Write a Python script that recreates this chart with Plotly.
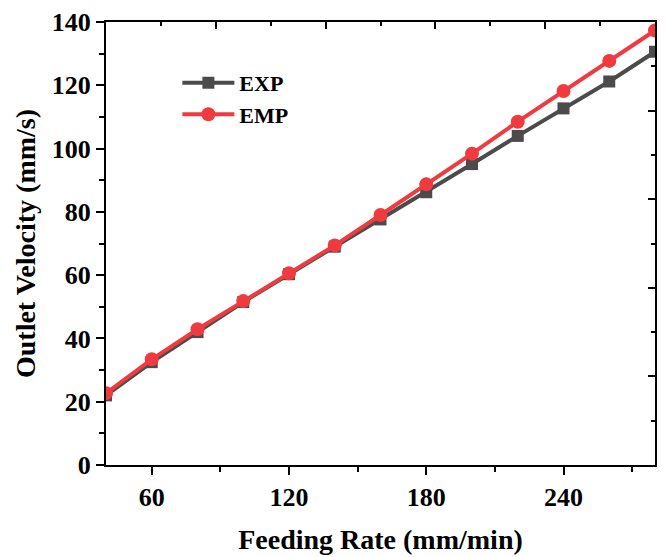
import plotly.graph_objects as go

feeding_rate = [40, 60, 80, 100, 120, 140, 160, 180, 200, 220, 240, 260, 280]
exp_velocity = [22.0, 32.5, 42.0, 51.5, 60.3, 69.0, 77.6, 86.2, 95.1, 104.0, 112.7, 121.2, 130.6]
emp_velocity = [22.7, 33.4, 42.9, 51.8, 60.6, 69.4, 79.0, 88.7, 98.4, 108.5, 118.2, 127.7, 137.3]

x_ticks = [60, 120, 180, 240]
y_ticks = [0, 20, 40, 60, 80, 100, 120, 140]

FONT = "Liberation Serif"
GRAY = "#4b4b4b"
RED = "#ef3b3f"

fig = go.Figure()
fig.add_trace(go.Scatter(
    x=feeding_rate, y=exp_velocity, name="EXP", mode="lines+markers",
    line=dict(color=GRAY, width=4),
    marker=dict(symbol="square", size=12, color=GRAY),
))
fig.add_trace(go.Scatter(
    x=feeding_rate, y=emp_velocity, name="EMP", mode="lines+markers",
    line=dict(color=RED, width=4),
    marker=dict(symbol="circle", size=14, color=RED),
))
# helper trace so the mirrored top/right axes are drawn
fig.add_trace(go.Scatter(
    x=[0], y=[0], xaxis="x2", yaxis="y2", mode="markers",
    marker=dict(opacity=0), showlegend=False, hoverinfo="skip",
))

fig.update_layout(
    width=667, height=557,
    margin=dict(l=106, r=12, t=22, b=92),
    plot_bgcolor="white", paper_bgcolor="white",
    font=dict(family=FONT, color="black"),
    showlegend=True,
    legend=dict(
        x=0.13, y=0.91, xanchor="left", yanchor="top",
        bgcolor="rgba(0,0,0,0)", borderwidth=0,
        font=dict(family=FONT, size=22, color="black", weight="bold"),
        itemwidth=52,
        tracegroupgap=0,
    ),
    xaxis=dict(
        range=[40, 280], tickvals=x_ticks, automargin=False,
        ticks="outside", ticklen=8, tickwidth=2, tickcolor="black",
        showline=True, linewidth=2, linecolor="black",
        showgrid=False, zeroline=False,
        minor=dict(tickvals=[90, 150, 210, 270], ticks="outside", ticklen=5, tickwidth=2, tickcolor="black"),
        tickfont=dict(family=FONT, size=26, weight="bold"),
        title=dict(text="Feeding Rate (mm/min)", font=dict(family=FONT, size=28, weight="bold"), standoff=18),
    ),
    yaxis=dict(
        range=[0, 140], tickvals=y_ticks, automargin=False,
        ticks="outside", ticklen=8, tickwidth=2, tickcolor="black",
        showline=True, linewidth=2, linecolor="black",
        showgrid=False, zeroline=False,
        minor=dict(tickvals=[10, 30, 50, 70, 90, 110, 130], ticks="outside", ticklen=5, tickwidth=2, tickcolor="black"),
        tickfont=dict(family=FONT, size=26, weight="bold"),
        title=dict(text="Outlet Velocity (mm/s)", font=dict(family=FONT, size=28, weight="bold"), standoff=8),
    ),
    xaxis2=dict(
        overlaying="x", side="top", range=[0, 10], automargin=False,
        tickvals=[0, 2, 4, 6, 8, 10], ticks="inside", ticklen=7, tickwidth=2, tickcolor="black",
        minor=dict(tickvals=[1, 3, 5, 7, 9], ticks="inside", ticklen=4, tickwidth=2, tickcolor="black"),
        showticklabels=False, showline=True, linewidth=2, linecolor="black",
        showgrid=False, zeroline=False,
    ),
    yaxis2=dict(
        overlaying="y", side="right", range=[0, 10], automargin=False,
        tickvals=[0, 2, 4, 6, 8, 10], ticks="inside", ticklen=7, tickwidth=2, tickcolor="black",
        minor=dict(tickvals=[1, 3, 5, 7, 9], ticks="inside", ticklen=4, tickwidth=2, tickcolor="black"),
        showticklabels=False, showline=True, linewidth=2, linecolor="black",
        showgrid=False, zeroline=False,
    ),
)

fig.write_html("out.html")
